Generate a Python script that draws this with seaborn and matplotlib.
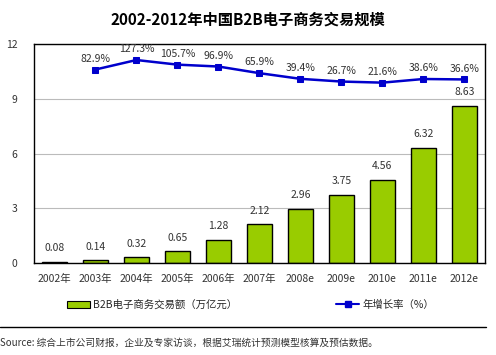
import matplotlib
matplotlib.use("Agg")
import matplotlib.pyplot as plt
import seaborn as sns
import numpy as np
from matplotlib.lines import Line2D
from matplotlib.patches import Patch

# data
years = ["2002年", "2003年", "2004年", "2005年", "2006年", "2007年",
         "2008e", "2009e", "2010e", "2011e", "2012e"]
volume = [0.08, 0.14, 0.32, 0.65, 1.28, 2.12, 2.96, 3.75, 4.56, 6.32, 8.63]
rate_years = years[1:]
growth = [82.9, 127.3, 105.7, 96.9, 65.9, 39.4, 26.7, 21.6, 38.6, 36.6]

sns.set_style("white")
plt.rcParams['font.family'] = ['Noto Sans CJK SC', 'DejaVu Sans']

fig = plt.figure(figsize=(4.96, 3.55), dpi=100)
ax = fig.add_axes([0.0685, 0.259, 0.909, 0.617])

# bars
sns.barplot(x=years, y=volume, color="#99CC00", edgecolor="black",
            linewidth=1, width=0.6, saturation=1, ax=ax)
for i, v in enumerate(volume):
    ax.text(i, v + 0.75, f"{v:.2f}", ha="center", va="center", fontsize=7.5, color="#333333")

ax.set_ylim(0, 12)
ax.set_xlim(-0.5, len(years) - 0.5)
ax.set_yticks([0, 3, 6, 9, 12])
ax.yaxis.grid(True, color="#BBBBBB", lw=0.8)
ax.set_axisbelow(True)
ax.tick_params(axis="y", labelsize=7.5, pad=12, length=0, colors="#333333")
ax.tick_params(axis="x", labelsize=7.5, length=0, colors="#333333", pad=8)
for s in ax.spines.values():
    s.set_color("black")
    s.set_linewidth(1)

# growth rate on hidden secondary axis
ax2 = ax.twinx()
pos = [years.index(y) for y in rate_years]
sns.lineplot(x=pos, y=growth, color="#0000CC", marker="s", markersize=5,
             markeredgecolor="#0000CC", lw=1.8, ax=ax2)
ax2.set_ylim(-821, 202)
ax2.set_yticks([])
ax2.set_xlim(-0.5, len(years) - 0.5)
for s in ax2.spines.values():
    s.set_visible(False)
for p, g in zip(pos, growth):
    ax2.text(p, g + 50, f"{g}%", ha="center", va="center", fontsize=7.5, color="#333333")

fig.text(0.5, 0.944, "2002-2012年中国B2B电子商务交易规模", ha="center", va="center",
         fontsize=11, fontweight="bold", color="black")

handles = [Patch(facecolor="#99CC00", edgecolor="black", lw=0.8),
           Line2D([0], [0], color="#0000CC", marker="s", markersize=4, lw=1.5)]
fig.legend(handles, ["B2B电子商务交易额（万亿元）", "年增长率（%）"], ncol=2,
           loc="center", bbox_to_anchor=(0.505, 0.141), frameon=False, fontsize=7.5,
           columnspacing=9.5, handlelength=2.2, handletextpad=0.3)

fig.add_artist(Line2D([0, 0.98], [0.079, 0.079], color="black", lw=1))
fig.text(0.0, 0.034, "Source: 综合上市公司财报，企业及专家访谈，根据艾瑞统计预测模型核算及预估数据。",
         ha="left", va="center", fontsize=7, color="#333333")

fig.savefig("out.png", dpi=100)
